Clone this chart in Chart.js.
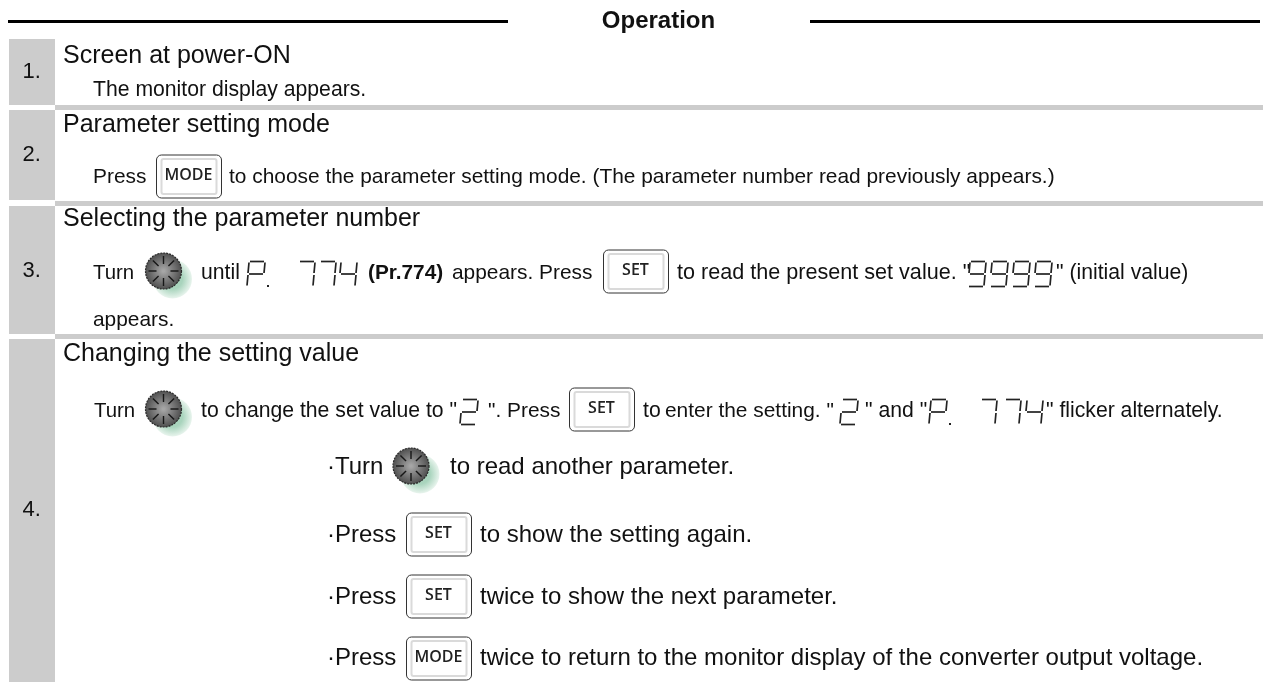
<!DOCTYPE html>
<html>
<head>
<meta charset="utf-8">
<style>
html, body { margin: 0; padding: 0; background: #fff; }
#wrap { width: 1263px; height: 682px; }
</style>
<script src="https://cdn.jsdelivr.net/npm/chart.js@4"></script>
</head>
<body>
<div id="wrap"><canvas id="sheet"></canvas></div>
<script>
// step table contents
var title = "Operation";
var stepLabels = ["1.", "2.", "3.", "4."];
var stepTops = [39, 110, 206, 339];
var stepBottoms = [105, 200, 334, 682];
var separators = [107.5, 203.5, 336.5];
var ruleLeft = [8, 508];
var ruleRight = [810, 1260];
var headings = ["Screen at power-ON", "Parameter setting mode", "Selecting the parameter number", "Changing the setting value"];
var step1Text = ["The monitor display appears."];
var step2Text = ["Press", "to choose the parameter setting mode. (The parameter number read previously appears.)"];
var step3Text = ["Turn", "until", "(Pr.774)", "appears. Press", "to read the present set value. \"", "\" (initial value)", "appears."];
var step4Text = ["Turn", "to change the set value to \"", "\". Press", "to", "enter the setting. \"", "\" and \"", "\" flicker alternately."];
var bulletText = ["·Turn", "to read another parameter.", "·Press", "to show the setting again.", "twice to show the next parameter.", "twice to return to the monitor display of the converter output voltage."];
var keyLabels = ["MODE", "SET"];

var GREY = "#cccccc";

function lineSet(points, color, width) {
    return { data: points, borderColor: color, borderWidth: width, pointRadius: 0, borderCapStyle: "butt", showLine: true, parsing: false };
}

var datasets = [];
datasets.push(lineSet([{x: ruleLeft[0], y: 21.5}, {x: ruleLeft[1], y: 21.5}], "#000", 3));
datasets.push(lineSet([{x: ruleRight[0], y: 21.5}, {x: ruleRight[1], y: 21.5}], "#000", 3));
stepLabels.forEach(function(s, i) {
    datasets.push(lineSet([{x: 32, y: stepTops[i]}, {x: 32, y: stepBottoms[i]}], GREY, 46));
});
separators.forEach(function(y) {
    datasets.push(lineSet([{x: 55, y: y}, {x: 1263, y: y}], GREY, 5));
});

// draws the rest of the sheet in scale units, which equal pixels here
var sheetPlugin = {
    id: "sheet",
    afterDatasetsDraw: function(chart) {
        var c = chart.ctx;
        var sx = chart.scales.x, sy = chart.scales.y;
        var X = function(v) { return sx.getPixelForValue(v); };
        var Y = function(v) { return sy.getPixelForValue(v); };

        function text(str, x, y, size, bold, align) {
            c.font = (bold ? "bold " : "") + size + "px 'Liberation Sans'";
            c.fillStyle = "#111";
            c.textAlign = align || "left";
            c.textBaseline = "middle";
            c.fillText(str, X(x), Y(y));
        }

        // keys are a rounded box with a soft inner frame
        function key(label, x, yc) {
            var w = 65, h = 43;
            var left = X(x), top = Y(yc - h / 2);
            c.beginPath();
            c.roundRect(left + 0.5, top + 0.5, w, h, 5);
            c.fillStyle = "#fff"; c.fill();
            c.strokeStyle = "#333"; c.lineWidth = 1; c.stroke();
            c.beginPath();
            c.roundRect(left + 5.5, top + 4.5, w - 10, h - 8, 2);
            c.strokeStyle = "#dadada"; c.lineWidth = 2; c.stroke();
            c.font = "600 16px 'Open Sans'";
            c.fillStyle = "#222";
            c.textAlign = "center"; c.textBaseline = "middle";
            c.fillText(label, left + w / 2, top + h / 2 - 1);
        }

        function knob(x, yc) {
            var px = X(x), py = Y(yc);
            var sg = c.createRadialGradient(px + 9, py + 8, 10, px + 9, py + 8, 20);
            sg.addColorStop(0, "#a9d4bd");
            sg.addColorStop(1, "#ecf6f0");
            c.beginPath();
            c.arc(px + 9, py + 8, 19.5, 0, Math.PI * 2);
            c.fillStyle = sg; c.fill();
            var g = c.createRadialGradient(px, py, 1, px, py, 18);
            g.addColorStop(0, "#a6a6a6");
            g.addColorStop(1, "#505050");
            c.beginPath();
            c.arc(px, py, 18, 0, Math.PI * 2);
            c.fillStyle = g; c.fill();
            c.strokeStyle = "#2a2a2a"; c.lineWidth = 1.2; c.setLineDash([2, 1]); c.stroke(); c.setLineDash([]);
            c.strokeStyle = "#161616"; c.lineWidth = 1.4;
            for (var k = 0; k < 8; k++) {
                var a = k * Math.PI / 4;
                c.beginPath();
                c.moveTo(px + Math.cos(a) * 7, py + Math.sin(a) * 7);
                c.lineTo(px + Math.cos(a) * 15, py + Math.sin(a) * 15);
                c.stroke();
            }
        }

        // seven segment glyphs, thin slanted strokes with small gaps
        var SEG = { "7": "abc", "4": "fgbc", "9": "abcdfg", "2": "abged", "P": "abgfe" };
        function seg(ch, x, yc) {
            var w = 16, h = 25, s = 2, px = X(x), top = Y(yc - h / 2), mid = top + h / 2, bot = top + h;
            var paths = {
                a: [px + s + 1, top, px + s + w - 1, top], b: [px + s + w, top + 1, px + s / 2 + w, mid - 1],
                c: [px + s / 2 + w, mid + 1, px + w, bot - 1], d: [px + 1, bot, px + w - 1, bot],
                e: [px + s / 2, mid + 1, px, bot - 1], f: [px + s, top + 1, px + s / 2, mid - 1], g: [px + s / 2 + 1, mid, px + s / 2 + w - 1, mid]
            };
            c.strokeStyle = "#222"; c.lineWidth = 1.7;
            SEG[ch].split("").forEach(function(name) {
                var p = paths[name];
                c.beginPath(); c.moveTo(p[0], p[1]); c.lineTo(p[2], p[3]); c.stroke();
            });
        }
        function segDot(x, y) {
            c.fillStyle = "#222";
            c.fillRect(X(x), Y(y), 2, 2);
        }

        text(title, 658.5, 21, 24, true, "center");
        var labelY = [72, 155, 271, 510];
        stepLabels.forEach(function(s, i) { text(s, 22.5, labelY[i], 22); });
        var headY = [56, 125, 219, 354];
        headings.forEach(function(h, i) { text(h, 63, headY[i], 25); });

        var size = 21.2;
        text(step1Text[0], 93, 90, size);

        text(step2Text[0], 93, 177, 20.9);
        key(keyLabels[0], 156, 176);
        text(step2Text[1], 229, 177, 20.9);

        text(step3Text[0], 93, 273, 20.4);
        knob(163.5, 271);
        text(step3Text[1], 201, 273, size);
        seg("P", 247, 274); segDot(267, 285);
        seg("7", 297, 274); seg("7", 318, 274); seg("4", 339, 274);
        text(step3Text[2], 368, 273, 20.8, true);
        text(step3Text[3], 452, 273, 20.9);
        key(keyLabels[1], 603, 271);
        text(step3Text[4], 677, 273, 21.6);
        seg("9", 968, 274); seg("9", 990, 274); seg("9", 1012, 274); seg("9", 1034, 274);
        text(step3Text[5], 1056, 273, size);
        text(step3Text[6], 93, 320, 20.9);

        text(step4Text[0], 94, 411, 20.4);
        knob(163.5, 409);
        text(step4Text[1], 201, 411, size);
        seg("2", 460, 412);
        text(step4Text[2], 488, 411, 20.9);
        key(keyLabels[1], 569, 409);
        text(step4Text[3], 643, 411, size);
        text(step4Text[4], 665, 411, 20.9);
        seg("2", 840, 412);
        text(step4Text[5], 865, 411, size);
        seg("P", 929, 412); segDot(949, 423);
        seg("7", 979, 412); seg("7", 1003, 412); seg("4", 1025, 412);
        text(step4Text[6], 1046, 411, size);

        var big = 24;
        text(bulletText[0], 327, 467, big);
        knob(411, 466);
        text(bulletText[1], 450, 467, big);
        text(bulletText[2], 327, 535, big);
        key(keyLabels[1], 406, 534);
        text(bulletText[3], 480, 535, big);
        text(bulletText[2], 327, 597, big);
        key(keyLabels[1], 406, 596);
        text(bulletText[4], 480, 597, big);
        text(bulletText[2], 327, 658, big);
        key(keyLabels[0], 406, 658);
        text(bulletText[5], 480, 658, big);
    }
};

new Chart(document.getElementById("sheet").getContext("2d"), {
    type: "scatter",
    data: { datasets: datasets },
    options: {
        responsive: true,
        maintainAspectRatio: false,
        animation: false,
        layout: { padding: 0 },
        plugins: { legend: { display: false }, tooltip: { enabled: false } },
        scales: {
            x: { type: "linear", display: false, min: 0, max: 1263 },
            y: { type: "linear", display: false, min: 0, max: 682, reverse: true }
        }
    },
    plugins: [sheetPlugin]
});
</script>
</body>
</html>
